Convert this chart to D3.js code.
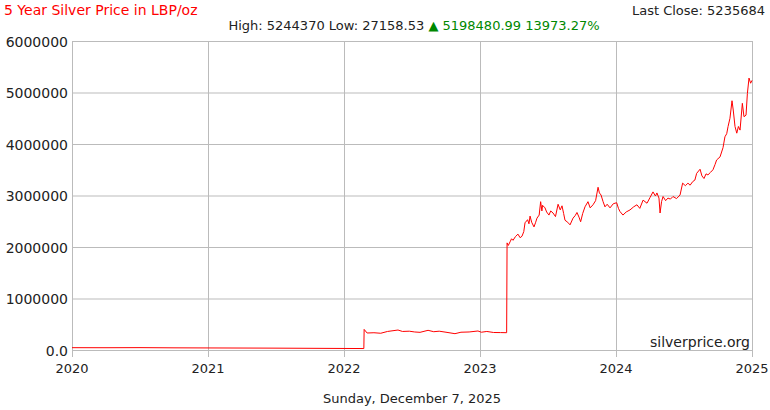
<!DOCTYPE html>
<html><head><meta charset="utf-8">
<script src="https://cdn.jsdelivr.net/npm/d3@7"></script>
<style>body{margin:0;background:#fff}svg{display:block}text{font-family:"DejaVu Sans",Verdana,sans-serif}</style>
</head><body><svg id="c" width="770" height="410"></svg>
<script>
// Position along the x axis in label units (2020 = 0 ... 2025 = 5) and price in LBP/oz
const positions = [0.000,0.25,0.5,0.75,1.0,1.25,1.5,1.75,2.0,2.146,2.148,2.17,2.22,2.27,2.32,2.397,2.43,2.48,2.52,2.559,2.618,2.66,2.70,2.75,2.816,2.86,2.92,2.985,3.01,3.05,3.10,3.15,3.196,
3.199,3.208,3.221,3.232,3.243,3.26,3.279,3.295,3.309,3.322,3.331,3.35,3.36,3.368,3.38,3.397,3.408,3.419,3.435,3.446,3.455,3.46,3.478,3.49,3.507,3.52,3.537,3.555,3.574,3.59,3.603,3.615,3.625,3.645,3.662,3.684,3.70,3.713,3.728,3.740,3.755,3.772,3.794,3.81,3.831,3.85,3.868,3.878,3.890,3.905,3.919,3.935,3.956,3.98,4.005,4.018,4.029,4.051,4.075,4.103,4.13,4.154,4.175,4.199,4.228,4.25,4.272,4.29,4.301,4.316,4.324,4.335,4.346,4.365,4.382,4.40,4.419,4.445,4.471,4.490,4.51,4.529,4.545,4.564,4.58,4.593,4.618,4.632,4.647,4.662,4.676,4.695,4.713,4.728,4.740,4.765,4.787,4.801,4.814,4.824,4.838,4.853,4.862,4.875,4.888,4.900,4.912,4.929,4.941,4.956,4.966,4.978,4.990,5.000];
const prices = [45000,44000,46000,42000,40000,38000,36000,33000,30000,28500,400000,330000,335000,325000,360000,388000,360000,365000,350000,343000,382000,355000,365000,345000,317000,345000,350000,369000,345000,360000,340000,338000,336000,
2080000,2030000,2100000,2160000,2130000,2200000,2250000,2180000,2210000,2300000,2470000,2530000,2450000,2600000,2480000,2390000,2470000,2560000,2620000,2880000,2700000,2810000,2760000,2680000,2620000,2700000,2660000,2590000,2830000,2720000,2800000,2650000,2520000,2480000,2430000,2560000,2610000,2670000,2580000,2490000,2650000,2780000,2880000,2760000,2820000,2900000,3160000,3050000,3010000,2880000,2780000,2830000,2760000,2840000,2860000,2750000,2690000,2620000,2680000,2720000,2780000,2820000,2750000,2910000,2850000,2960000,3070000,2990000,3050000,2950000,2660000,2880000,2980000,2900000,2950000,2930000,2980000,2940000,3010000,3240000,3190000,3240000,3200000,3270000,3300000,3430000,3510000,3380000,3330000,3420000,3400000,3450000,3500000,3600000,3690000,3750000,3930000,4140000,4200000,4340000,4500000,4840000,4660000,4340000,4210000,4340000,4270000,4790000,4530000,4560000,4980000,5280000,5180000,5235684];
const xTickLabels = ["2020","2021","2022","2023","2024","2025"];
const yTicks = [0,1000000,2000000,3000000,4000000,5000000,6000000];
const titleText = "5 Year Silver Price in LBP/oz";
const lastClose = "Last Close: 5235684";
const statsText = "High: 5244370 Low: 27158.53 ";
const changeText = "\u25B2 5198480.99 13973.27%";
const dateText = "Sunday, December 7, 2025";
const watermark = "silverprice.org";

const svg = d3.select("#c");
const L=72,R=752,T=41,B=350;
const x = d3.scaleLinear().domain([0,5]).range([L,R]);
const y = d3.scaleLinear().domain([0,6000000]).range([B,T]);
const grid="#bbbbbb", ink="#222222";

// grid lines
svg.append("g").selectAll("line").data(yTicks).join("line")
  .attr("x1",L).attr("x2",R).attr("y1",d=>y(d)+0.5).attr("y2",d=>y(d)+0.5)
  .attr("stroke",grid).attr("stroke-width",1);
svg.append("g").selectAll("line").data(xTickLabels).join("line")
  .attr("x1",(d,i)=>Math.round(x(i))+0.5).attr("x2",(d,i)=>Math.round(x(i))+0.5)
  .attr("y1",T).attr("y2",B+7)
  .attr("stroke",grid).attr("stroke-width",1);

// y labels
svg.append("g").selectAll("text").data(yTicks).join("text")
  .attr("x",68).attr("y",d=>y(d)+5.5).attr("text-anchor","end")
  .attr("font-size",14).attr("fill",ink)
  .text(d=>d===0?"0.0":String(d));
// x labels
svg.append("g").selectAll("text").data(xTickLabels).join("text")
  .attr("x",(d,i)=>x(i)).attr("y",373).attr("text-anchor","middle")
  .attr("font-size",13).attr("fill",ink).text(d=>d);

// line
const pts = positions.map((p,i)=>[p,prices[i]]);
svg.append("path").datum(pts)
  .attr("fill","none").attr("stroke","#ff0000").attr("stroke-width",1)
  .attr("stroke-linejoin","round")
  .attr("d",d3.line().x(d=>x(d[0])).y(d=>y(d[1])));

// texts
svg.append("text").attr("x",4).attr("y",15).attr("font-size",14).attr("fill","#ff0000").text(titleText);
svg.append("text").attr("x",765).attr("y",15).attr("font-size",13).attr("fill",ink).attr("text-anchor","end").text(lastClose);
const st = svg.append("text").attr("x",414).attr("y",30).attr("font-size",13).attr("text-anchor","middle");
st.append("tspan").attr("fill",ink).text(statsText);
st.append("tspan").attr("fill","#008800").text(changeText);
svg.append("text").attr("x",750).attr("y",347).attr("font-size",14).attr("fill",ink).attr("text-anchor","end").text(watermark);
svg.append("text").attr("x",412).attr("y",403).attr("font-size",13).attr("fill",ink).attr("text-anchor","middle").text(dateText);
</script></body></html>
